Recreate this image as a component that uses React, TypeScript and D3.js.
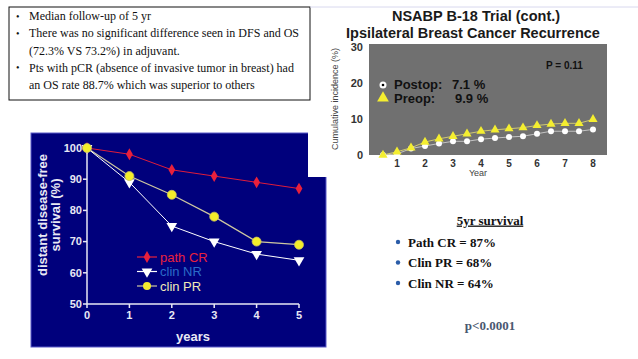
import * as d3 from "d3"

// left chart: distant disease-free survival by response
const years = [0, 1, 2, 3, 4, 5]
const pathCR = [100, 98, 93, 91, 89, 87]
const clinNR = [100, 89, 75, 70, 66, 64]
const clinPR = [100, 91, 85, 78, 70, 69]
const survTicks = [50, 60, 70, 80, 90, 100]

// right chart: cumulative incidence of IBTR
const ibtrYears = [0.5, 1, 1.5, 2, 2.5, 3, 3.5, 4, 4.5, 5, 5.5, 6, 6.5, 7, 7.5, 8]
const postop = [0, 0.3, 1.8, 2.5, 3.2, 3.8, 3.8, 4.4, 4.7, 5.0, 5.2, 5.9, 6.6, 6.6, 6.6, 7.1]
const preop = [0, 0.9, 2.0, 3.6, 4.5, 5.2, 5.9, 6.6, 7.0, 7.3, 7.6, 8.2, 8.6, 8.8, 8.8, 9.9]
const ibtrXTicks = [1, 2, 3, 4, 5, 6, 7, 8]
const ibtrYTicks = [0, 10, 20, 30]

const bullets = [
  ["Median follow-up of 5 yr"],
  ["There was no significant difference seen in DFS and OS", "(72.3% VS 73.2%) in adjuvant."],
  ["Pts with pCR (absence of invasive tumor in breast) had", "an OS rate 88.7% which was superior to others"],
]
const survival5yr = ["Path CR = 87%", "Clin PR = 68%", "Clin NR = 64%"]

const sans = "'Liberation Sans', Arial, sans-serif"
const serif = "'Liberation Serif', 'Times New Roman', serif"

function LeftChart() {
  const x = d3.scaleLinear().domain([0, 5]).range([87, 299])
  const y = d3.scaleLinear().domain([50, 100]).range([304, 148])
  const line = d3.line<number>().x((_, i) => x(years[i])).y(d => y(d))
  const axisCol = "#e8e8f4"
  const diamond = d3.symbol().type(d3.symbolDiamond).size(40)()
  const tri = d3.symbol().type(d3.symbolTriangle).size(50)()

  const legend = [
    { label: "path CR", color: "#e8203c", text: "#e8203c", kind: "d" },
    { label: "clin NR", color: "#ffffff", text: "#2a6cc8", kind: "t" },
    { label: "clin PR", color: "#f2ea30", text: "#f0eab8", kind: "c" },
  ]

  return (
    <g fontFamily={sans}>
      <rect x={31} y={133} width={295} height={214} fill="#00007c" stroke="#5a5ac8" strokeWidth={1} />
      <rect x={308} y={132} width={20} height={45} fill="#ffffff" />
      {/* axes */}
      <line x1={x(0)} x2={x(5)} y1={y(50)} y2={y(50)} stroke={axisCol} strokeWidth={1.5} />
      <line x1={x(0)} x2={x(0)} y1={y(50)} y2={y(100)} stroke={axisCol} strokeWidth={1.5} />
      {survTicks.map(t => (
        <g key={t}>
          <line x1={x(0) - 4} x2={x(0)} y1={y(t)} y2={y(t)} stroke={axisCol} strokeWidth={1.5} />
          <text x={x(0) - 5} y={y(t)} dy="0.35em" textAnchor="end" fontSize={11} fontWeight="bold" fill={axisCol}>{t}</text>
        </g>
      ))}
      {years.map(t => (
        <g key={t}>
          <line x1={x(t)} x2={x(t)} y1={y(50)} y2={y(50) + 4} stroke={axisCol} strokeWidth={1.5} />
          <text x={x(t)} y={y(50) + 15} textAnchor="middle" fontSize={11} fontWeight="bold" fill={axisCol}>{t}</text>
        </g>
      ))}
      <text x={193} y={341} textAnchor="middle" fontSize={13} fontWeight="bold" fill={axisCol}>years</text>
      <g transform="translate(0,215) rotate(-90)" fontSize={13} fontWeight="bold" fill={axisCol} textAnchor="middle">
        <text x={0} y={47}>distant disease-free</text>
        <text x={0} y={60}>survival (%)</text>
      </g>

      {/* series */}
      <path d={line(pathCR) ?? ""} fill="none" stroke="#e01c3a" strokeWidth={1} />
      <path d={line(clinPR) ?? ""} fill="none" stroke="#cfc8a0" strokeWidth={1.2} />
      <path d={line(clinNR) ?? ""} fill="none" stroke="#ffffff" strokeWidth={1} />
      {pathCR.map((v, i) => (
        <path key={i} d={diamond} transform={`translate(${x(years[i])},${y(v)})`} fill="#e8203c" />
      ))}
      {clinNR.map((v, i) => (
        <path key={i} d={tri} transform={`translate(${x(years[i])},${y(v)}) rotate(180)`} fill="#ffffff" />
      ))}
      {clinPR.map((v, i) => (
        <circle key={i} cx={x(years[i])} cy={y(v)} r={4.5} fill="#f4ee2a" stroke="#c8c060" strokeWidth={0.8} />
      ))}

      {/* legend */}
      {legend.map((l, i) => {
        const ly = 257 + i * 14.5
        return (
          <g key={l.label}>
            <line x1={137} x2={157} y1={ly} y2={ly} stroke={l.kind === "c" ? "#cfc8a0" : l.color} strokeWidth={1.2} />
            {l.kind === "d" && <path d={diamond} transform={`translate(147,${ly})`} fill={l.color} />}
            {l.kind === "t" && <path d={tri} transform={`translate(147,${ly}) rotate(180)`} fill={l.color} />}
            {l.kind === "c" && <circle cx={147} cy={ly} r={4} fill={l.color} />}
            <text x={160} y={ly} dy="0.35em" fontSize={13} fill={l.text}>{l.label}</text>
          </g>
        )
      })}
    </g>
  )
}

function RightChart() {
  const x = d3.scaleLinear().domain([0, 8]).range([369, 593])
  const y = d3.scaleLinear().domain([0, 30]).range([155, 47])
  const line = d3.line<number>().x((_, i) => x(ibtrYears[i])).y(d => y(d))
  const tri = d3.symbol().type(d3.symbolTriangle).size(36)()

  return (
    <g fontFamily={sans}>
      <line x1={310} x2={638} y1={7} y2={7} stroke="#d8d8ee" strokeWidth={1} />
      <text x={476} y={16} dy="0.35em" textAnchor="middle" fontSize={14.5} fontWeight="bold" fill="#1a1a1a">NSABP B-18 Trial (cont.)</text>
      <text x={473} y={32.5} dy="0.35em" textAnchor="middle" fontSize={14.5} fontWeight="bold" fill="#1a1a1a">Ipsilateral Breast Cancer Recurrence</text>
      <rect x={369} y={44} width={238} height={111} fill="#707070" />
      {ibtrYTicks.map(t => (
        <text key={t} x={363} y={y(t)} dy="0.35em" textAnchor="end" fontSize={11} fontWeight="bold" fill="#333">{t}</text>
      ))}
      {ibtrXTicks.map(t => (
        <text key={t} x={x(t)} y={y(0) + 8} dy="0.35em" textAnchor="middle" fontSize={10} fontWeight="bold" fill="#333">{t}</text>
      ))}
      <text x={478} y={173} dy="0.35em" textAnchor="middle" fontSize={9} fill="#444">Year</text>
      <text transform="translate(335,99) rotate(-90)" dy="0.35em" textAnchor="middle" fontSize={9} fill="#444">Cumulative incidence (%)</text>
      <text x={546} y={65} dy="0.35em" fontSize={10} fontWeight="bold" fill="#111">P = 0.11</text>

      <path d={line(postop) ?? ""} fill="none" stroke="#d8d8d8" strokeWidth={0.8} />
      <path d={line(preop) ?? ""} fill="none" stroke="#e8e070" strokeWidth={0.8} />
      {postop.map((v, i) => (
        <circle key={i} cx={x(ibtrYears[i])} cy={y(v)} r={3} fill="#ffffff" />
      ))}
      {preop.map((v, i) => (
        <path key={i} d={tri} transform={`translate(${x(ibtrYears[i])},${y(v)})`} fill="#f4ee30" />
      ))}

      {/* legend */}
      <circle cx={383} cy={85} r={3.5} fill="#ffffff" />
      <circle cx={383} cy={85} r={1.3} fill="#000" />
      <path d={d3.symbol().type(d3.symbolTriangle).size(60)() ?? ""} transform="translate(383,98)" fill="#f4ee30" />
      <g fontSize={13} fontWeight="bold" fill="#111">
        <text x={394} y={84} dy="0.35em">Postop:</text>
        <text x={452} y={84} dy="0.35em">7.1 %</text>
        <text x={394} y={98} dy="0.35em">Preop:</text>
        <text x={455} y={98} dy="0.35em">9.9 %</text>
      </g>
    </g>
  )
}

export default function App() {
  return (
    <svg width={638} height={359} style={{ position: "absolute", left: 0, top: 0, background: "#fff" }}>
      {/* bullet box */}
      <g fontFamily={serif} fontSize={12} fill="#111">
        <rect x={9} y={7} width={301} height={93} fill="#fff" stroke="#111" strokeWidth={1} />
        {(() => {
          let row = 0
          return bullets.map((b, i) => {
            const start = row
            row += b.length
            return (
              <g key={i}>
                <text x={16} y={16 + start * 17.2} dy="0.35em" fontSize={10}>•</text>
                {b.map((s, j) => (
                  <text key={j} x={29} y={16 + (start + j) * 17.2} dy="0.35em">{s}</text>
                ))}
              </g>
            )
          })
        })()}
      </g>

      <LeftChart />
      <RightChart />

      {/* 5yr survival text */}
      <g fontFamily={serif} fontWeight="bold" fontSize={13} fill="#111">
        <text x={490} y={220} dy="0.35em" textAnchor="middle" textDecoration="underline">5yr survival</text>
        {survival5yr.map((s, i) => (
          <g key={s}>
            <circle cx={398} cy={242 + i * 20.5} r={2.2} fill="#2a5ca8" />
            <text x={408} y={242 + i * 20.5} dy="0.35em">{s}</text>
          </g>
        ))}
        <text x={490} y={325} dy="0.35em" textAnchor="middle" fill="#4a5870">p&lt;0.0001</text>
      </g>
    </svg>
  )
}
